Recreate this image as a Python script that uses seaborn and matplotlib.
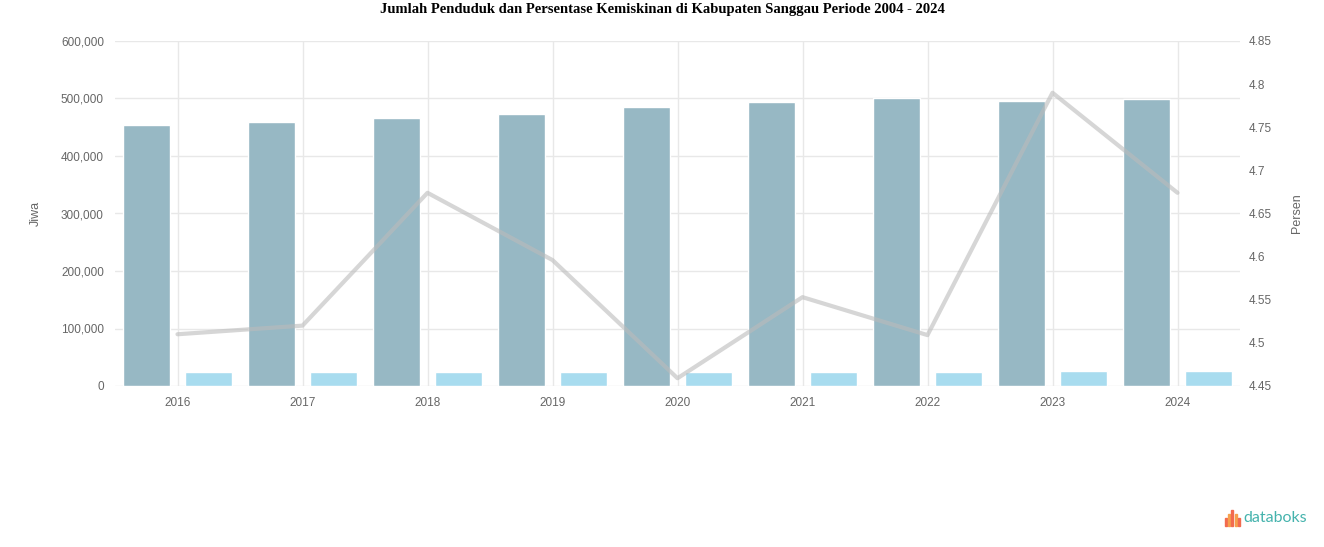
import matplotlib
matplotlib.use("Agg")
import matplotlib.pyplot as plt
import seaborn as sns
import numpy as np
import pandas as pd
from matplotlib.ticker import FuncFormatter, FixedLocator
from matplotlib.patches import Rectangle

years = ["2016", "2017", "2018", "2019", "2020", "2021", "2022", "2023", "2024"]
penduduk = [454000, 459000, 466000, 473000, 485000, 494000, 501000, 496000, 499000]
penduduk_miskin = [23500, 23700, 24300, 24200, 24100, 24500, 24600, 26500, 26000]
persentase = [4.51, 4.52, 4.674, 4.596, 4.459, 4.553, 4.509, 4.79, 4.674]
left_ticks = [0, 100000, 200000, 300000, 400000, 500000, 600000]
right_ticks = [4.45, 4.5, 4.55, 4.6, 4.65, 4.7, 4.75, 4.8, 4.85]

df = pd.DataFrame({
    "Tahun": years * 2,
    "Jiwa": penduduk + penduduk_miskin,
    "Seri": ["Jumlah Penduduk"] * len(years) + ["Penduduk Miskin"] * len(years),
})

sns.set_theme(style="white")
plt.rcParams["font.family"] = ["Liberation Sans", "DejaVu Sans"]

fig = plt.figure(figsize=(13.24, 5.47), dpi=100)
ax = fig.add_axes([115 / 1324, 1 - 386 / 547, 1125 / 1324, 345 / 547])

sns.barplot(data=df, x="Tahun", y="Jiwa", hue="Seri", order=years,
            palette=["#97b8c4", "#a8dcef"], width=1.0, gap=0.25,
            saturation=1, legend=False, ax=ax)
ax.set_xlim(-0.5, len(years) - 0.5)
ax.set_ylim(0, 600000)
ax.yaxis.set_major_locator(FixedLocator(left_ticks))
ax.yaxis.set_major_formatter(FuncFormatter(lambda v, p: f"{int(v):,}"))
ax.grid(True, axis="both", color="#e8e8e8", linewidth=1)
ax.set_axisbelow(True)
for s in ax.spines.values():
    s.set_visible(False)
ax.tick_params(axis="both", length=0, labelsize=8.5, colors="#666666", pad=8)
ax.set_xlabel("")
ax.set_ylabel("Jiwa", fontsize=9, color="#666666", labelpad=14)

ax2 = ax.twinx()
sns.lineplot(x=np.arange(len(years)), y=persentase, color="#bbbbbb",
             alpha=0.6, linewidth=3, ax=ax2)
ax2.set_ylim(4.45, 4.85)
ax2.yaxis.set_major_locator(FixedLocator(right_ticks))
ax2.yaxis.set_major_formatter(FuncFormatter(lambda v, p: f"{v:g}"))
for s in ax2.spines.values():
    s.set_visible(False)
ax2.tick_params(axis="y", length=0, labelsize=8.5, colors="#666666", pad=6)
ax2.set_ylabel("Persen", fontsize=9, color="#666666", labelpad=14)
ax2.grid(False)
ax.set_xlim(-0.5, len(years) - 0.5)

fig.text(0.5, 1 - 10 / 547, "Jumlah Penduduk dan Persentase Kemiskinan di Kabupaten Sanggau Periode 2004 - 2024",
         ha="center", va="center", fontsize=10.5, fontweight="bold",
         family=["Liberation Serif", "DejaVu Serif"], color="#000000")

# databoks logo
logo_cols = ["#f26b4f", "#f6a04d", "#f26b4f", "#f6a04d", "#f26b4f"]
logo_h = [8, 12, 16, 12, 8]
for i, (c, h) in enumerate(zip(logo_cols, logo_h)):
    fig.add_artist(Rectangle(((1225 + i * 3.2) / 1324, (547 - 526) / 547), 2 / 1324, h / 547,
                             transform=fig.transFigure, color=c))
fig.text(1243 / 1324, 1 - 518 / 547, "databoks", ha="left", va="center",
         fontsize=11.5, color="#45b3ad", family=["Lato", "DejaVu Sans"])

fig.savefig("out.png", dpi=100)
